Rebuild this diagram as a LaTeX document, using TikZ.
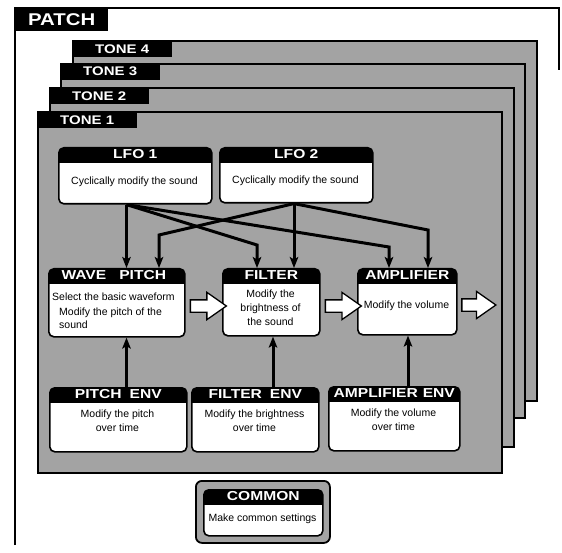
\documentclass[tikz,border=0pt]{standalone}
\usepackage{fontspec}
\setmainfont{Liberation Sans}
\newfontfamily\hdfont[FakeStretch=1.2]{Liberation Sans Bold}
\usetikzlibrary{arrows.meta,shapes.arrows,calc}
\tikzset{
  hd/.style={text=white, font=\hdfont\fontsize{13}{13}\selectfont, inner sep=0pt},
  bt/.style={font=\fontsize{10.5}{14}\selectfont, inner sep=0pt, align=center},
  modbox/.style={draw=black, line width=1.6pt, fill=white, rounded corners=5pt, anchor=north west, inner sep=0pt,
     path picture={\fill[black, sharp corners] (path picture bounding box.north west) rectangle ([yshift=-15pt]path picture bounding box.north east);}},
  toneframe/.style={draw=black, fill=black!36, line width=1.8pt, anchor=north west, inner sep=0pt, minimum width=464pt},
  tonelab/.style={fill=black, text=white, anchor=north west, minimum width=100pt, minimum height=17pt, inner sep=0pt, font=\hdfont\fontsize{12.5}{12.5}\selectfont},
  arr/.style={line width=3pt, -{Stealth[length=11pt,width=8.5pt,inset=2.5pt]}},
  blockarr/.style={shape=single arrow, draw=black, fill=white, line width=1.3pt, inner xsep=0pt, inner ysep=5.5pt, minimum height=36pt, minimum width=26pt, single arrow head extend=7.5pt, single arrow tip angle=70},
}
\begin{document}
\begin{tikzpicture}[x=1pt,y=-1pt]
\useasboundingbox (0,0) rectangle (562,553);
% PATCH frame
\draw[line width=2.2pt] (15,545) -- (15,8) -- (559,8) -- (559,70);
\node[fill=black, text=white, anchor=north west, minimum width=93pt, minimum height=23pt, inner sep=0pt, font=\hdfont\fontsize{17}{17}\selectfont] (patch) at (15,8) {PATCH};
% tone frames
\node[toneframe, minimum height=360pt] (tone4) at (72,40) {};
\node[tonelab] (t4) at (72,40) {TONE 4};
\node[toneframe, minimum height=354pt] (tone3) at (60,63) {};
\node[tonelab] (t3) at (60,63) {TONE 3};
\node[toneframe, minimum height=359pt] (tone2) at (49,87) {};
\node[tonelab] (t2) at (49,87) {TONE 2};
\node[toneframe, minimum height=361pt] (tone1) at (37,111) {};
\node[tonelab] (t1) at (37,111) {TONE 1};
% LFOs
\node[modbox, minimum width=153pt, minimum height=56pt] (lfo1) at (58,147) {};
\node[hd] (lfo1t) at ([yshift=-7.5pt]lfo1.north) {LFO 1};
\node[bt] (lfo1b) at (134.5,182) {Cyclically modify the sound};
\node[modbox, minimum width=153pt, minimum height=55pt] (lfo2) at (219,147) {};
\node[hd] (lfo2t) at ([yshift=-7.5pt]lfo2.north) {LFO 2};
\node[bt] (lfo2b) at (295.5,181) {Cyclically modify the sound};
% main modules
\node[modbox, minimum width=136pt, minimum height=68pt] (wave) at (48,268) {};
\node[hd] (wavet) at ([yshift=-7.5pt,xshift=-3pt]wave.north) {WAVE\hspace{13pt}PITCH};
\node[bt, anchor=west] (w1) at (52,297) {Select the basic waveform};
\node[bt, anchor=west, align=left, font=\fontsize{10.5}{12.5}\selectfont] (w2) at (59,318) {Modify the pitch of the\\sound};
\node[modbox, minimum width=97pt, minimum height=67pt] (filter) at (222,268) {};
\node[hd] (filtert) at ([yshift=-7.5pt]filter.north) {FILTER};
\node[bt] (filterb) at (270.5,308) {Modify the\\brightness of\\the sound};
\node[modbox, minimum width=99pt, minimum height=66pt] (amp) at (357,268) {};
\node[hd] (ampt) at ([yshift=-7.5pt]amp.north) {AMPLIFIER};
\node[bt] (ampb) at (406.5,306) {Modify the volume};
% envelopes
\node[modbox, minimum width=137pt, minimum height=64pt] (penv) at (49,387) {};
\node[hd] (penvt) at ([yshift=-7.5pt]penv.north) {PITCH\hspace{8pt}ENV};
\node[bt] (penvb) at (117.5,421) {Modify the pitch\\over time};
\node[modbox, minimum width=127pt, minimum height=64pt] (fenv) at (191,387) {};
\node[hd] (fenvt) at ([yshift=-7.5pt]fenv.north) {FILTER\hspace{8pt}ENV};
\node[bt] (fenvb) at (254.5,421) {Modify the brightness\\over time};
\node[modbox, minimum width=131pt, minimum height=64pt] (aenv) at (328,386) {};
\node[hd] (aenvt) at ([yshift=-7.5pt]aenv.north) {AMPLIFIER\hspace{5pt}ENV};
\node[bt] (aenvb) at (393.5,420) {Modify the volume\\over time};
% common
\node[draw=black, fill=black!36, line width=1.8pt, rounded corners=6pt, anchor=north west, inner sep=0pt, minimum width=134pt, minimum height=62pt] (commono) at (195,480) {};
\node[modbox, minimum width=119pt, minimum height=46pt] (common) at (203,489) {};
\node[hd] (commont) at ([yshift=-7.5pt]common.north) {COMMON};
\node[bt] (commonb) at (262.5,519) {Make common settings};
% hollow flow arrows
\node[blockarr] (h1) at (204,306) {};
\node[blockarr] (h2) at (339,306) {};
\node[blockarr, minimum height=34pt] (h3) at (474.5,305) {};
% connectors
\coordinate (xw) at (126.5,0);
\coordinate (xf2) at (294,0);
\coordinate (xfe) at (273,0);
\coordinate (xae) at (408,0);
\coordinate (b1f) at (257,245);
\coordinate (b1a) at (389,247);
\coordinate (b2w) at (159,235);
\coordinate (b2a) at (428,230);
\draw[arr] (lfo1.south -| xw) -- (wave.north -| xw);
\draw[arr] (lfo1.south -| xw) -- (b1f) -- (filter.north -| b1f);
\draw[arr] (lfo1.south -| xw) -- (b1a) -- (amp.north -| b1a);
\draw[arr] (lfo2.south -| xf2) -- (b2w) -- (wave.north -| b2w);
\draw[arr] (lfo2.south -| xf2) -- (filter.north -| xf2);
\draw[arr] (lfo2.south -| xf2) -- (b2a) -- (amp.north -| b2a);
\draw[arr] (penv.north -| xw) -- (wave.south -| xw);
\draw[arr] (fenv.north -| xfe) -- (filter.south -| xfe);
\draw[arr] (aenv.north -| xae) -- (amp.south -| xae);
\end{tikzpicture}
\end{document}
